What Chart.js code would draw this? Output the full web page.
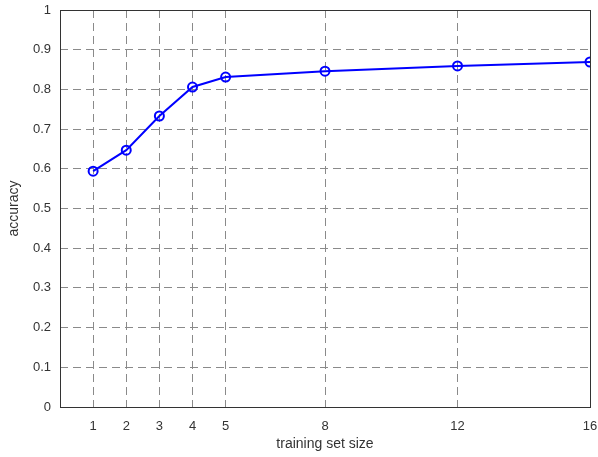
<!DOCTYPE html>
<html>
<head>
<meta charset="utf-8">
<script src="https://cdn.jsdelivr.net/npm/chart.js@4/dist/chart.umd.min.js"></script>
<style>
html, body { margin: 0; padding: 0; background: #fff; }
#wrap { width: 598px; height: 457px; }
</style>
</head>
<body>
<div id="wrap"><canvas id="accChart" width="598" height="457"></canvas></div>
<script>
// data
var sizes = [1, 2, 3, 4, 5, 8, 12, 16];
var accuracy = [0.594, 0.647, 0.733, 0.806, 0.831, 0.846, 0.859, 0.869];
var xTicks = [1, 2, 3, 4, 5, 8, 12, 16];

var points = [];
for (var i = 0; i < sizes.length; i++) {
	points.push({ x: sizes[i], y: accuracy[i] });
}

// box round the plot area
var frame = {
	id: 'frame',
	afterDraw: function(chart) {
		var a = chart.chartArea, c = chart.ctx;
		c.save();
		c.strokeStyle = '#333';
		c.lineWidth = 1;
		c.strokeRect(Math.round(a.left) + 0.5, Math.round(a.top) + 0.5,
			Math.round(a.right - a.left), Math.round(a.bottom - a.top));
		c.restore();
	}
};

var ctx = document.getElementById('accChart').getContext('2d');
new Chart(ctx, {
	type: 'line',
	data: {
		datasets: [{
			data: points,
			borderColor: '#0000ff',
			borderWidth: 2,
			pointRadius: 4.5,
			pointBorderWidth: 2,
			pointBackgroundColor: 'rgba(0,0,0,0)',
			pointBorderColor: '#0000ff',
			tension: 0
		}]
	},
	options: {
		responsive: false,
		animation: false,
		layout: { padding: { left: 2, right: 8, top: 10, bottom: 0 } },
		plugins: { legend: { display: false }, tooltip: { enabled: false } },
		scales: {
			x: {
				type: 'linear',
				min: 0,
				max: 16,
				afterBuildTicks: function(axis) {
					axis.ticks = xTicks.map(function(v) { return { value: v }; });
				},
				afterFit: function(axis) { axis.height = 50; axis.paddingRight = 0; axis.paddingLeft = 0; },
				grid: { color: '#8a8a8a', lineWidth: 1, drawTicks: false },
				border: { display: false, dash: [8, 5] },
				ticks: { color: '#333', font: { family: 'Liberation Sans', size: 13 }, padding: 12, maxRotation: 0 },
				title: { display: true, text: 'training set size', color: '#333',
					font: { family: 'Liberation Sans', size: 14 }, padding: { top: 3 } }
			},
			y: {
				min: 0,
				max: 1,
				afterFit: function(axis) { axis.width = 58; axis.paddingTop = 0; axis.paddingBottom = 0; },
				grid: { color: '#8a8a8a', lineWidth: 1, drawTicks: false },
				border: { display: false, dash: [8, 5] },
				ticks: { stepSize: 0.1, color: '#333', font: { family: 'Liberation Sans', size: 13 }, padding: 9,
					callback: function(v) { return Math.round(v * 10) / 10; } },
				title: { display: true, text: 'accuracy', color: '#333',
					font: { family: 'Liberation Sans', size: 14 }, padding: { bottom: 2 } }
			}
		}
	},
	plugins: [frame]
});
</script>
</body>
</html>
